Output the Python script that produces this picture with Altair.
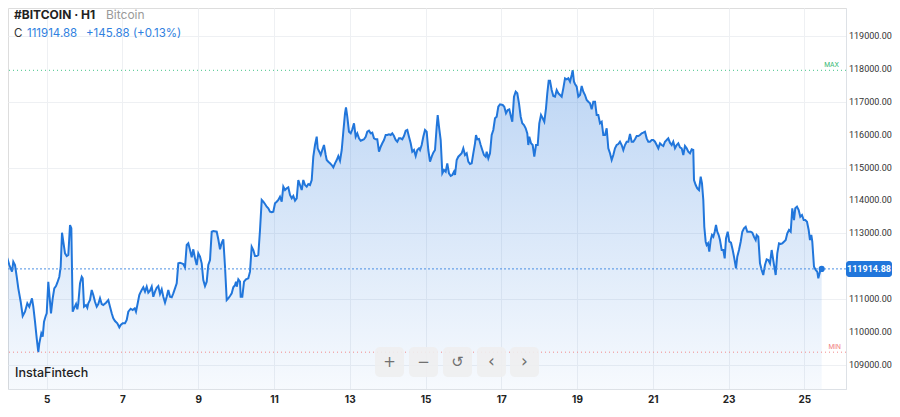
import altair as alt
import pandas as pd

# ---- data (day of month, price) ----
days1 = [3.767,3.812,3.854,3.880,3.925,3.960,4.013,4.049,4.084,4.118,
4.163,4.208,4.250,4.313,4.366,4.427,4.488,4.540,4.611,4.646,
4.691,4.736,4.778,4.805,4.857,4.894,4.929,4.973,5.000,5.042,
5.087,5.113,5.158,5.200,5.245,5.280,5.333,5.369,5.404,5.438,
5.483,5.528,5.570,5.615,5.650,5.686,5.721,5.774,5.808,5.834,
5.879,5.924,5.950,5.985,6.037,6.072,6.098,6.143,6.188,6.230,
6.275,6.320,6.362,6.407,6.452,6.494,6.565,6.626,6.671,6.716,
6.758,6.803,6.864,6.917,6.953,7.006,7.067,7.112,7.154,7.217,
7.270,7.323,7.357,7.402,7.444]
prices1 = [111982,112286,112390,112186,112286,112237,112033,111933,111830,112134,
112033,111677,111324,110916,110481,110612,110868,110764,111020,110764,
110308,109802,109380,109650,109954,109851,110308,110481,110563,111525,
110916,110563,111020,111324,111394,111495,111677,111982,113017,112743,
112390,112307,112338,113251,113151,110612,110715,110846,110685,110868,
111476,111677,111628,110764,110816,110734,110868,110968,111272,111120,
110916,110764,110846,111020,110846,110816,110886,110968,110764,110563,
110411,110329,110259,110137,110207,110259,110259,110359,110612,110703,
110664,110715,110612,110868,111120]

days2 = [7.463,7.508,7.550,7.595,7.640,7.682,7.727,7.772,7.814,7.859,
7.904,7.946,7.991,8.036,8.078,8.123,8.168,8.210,8.255,8.300,
8.342,8.387,8.432,8.474,8.519,8.564,8.606,8.651,8.696,8.738,
8.783,8.828,8.870,8.915,8.960,9.002,9.047,9.092,9.134,9.179,
9.224,9.266,9.311,9.356,9.398,9.488,9.530,9.575,9.620,9.662,
9.707,9.752,9.794,9.839,9.884,9.926,9.971,9.997,10.016,10.058,
10.103,10.121,10.164,10.209,10.261,10.322,10.367,10.411,10.454,10.499,
10.544,10.586,10.631,10.676,10.718,10.763,10.808,10.850,10.895,10.940,
10.982,11.027,11.072,11.114]
prices2 = [111172,111272,111355,111221,111373,111190,111251,111373,111068,111221,
111342,111394,111151,111294,111068,110886,111068,111272,111068,111050,
111172,111324,111476,112085,112103,112085,112064,111963,112642,112694,
112490,112268,112511,112237,112033,112390,112286,112085,111577,111394,
111525,112033,112186,113047,113068,113047,112816,112511,112712,112816,
111982,110968,111020,111090,111172,111355,111425,111525,111373,111598,
111525,111068,111068,111525,111598,111628,111830,112590,112490,112307,
112307,112338,113099,114012,113960,113890,113808,113759,113656,113638,
113656,113912,113960,114012]

days3 = [11.159,11.204,11.246,11.291,11.336,11.378,11.423,11.468,11.510,11.555,
11.600,11.642,11.687,11.732,11.774,11.819,11.864,11.906,11.951,11.996,
12.038,12.083,12.128,12.154,12.196,12.233,12.275,12.320,12.365,12.392,
12.434,12.479,12.524,12.566,12.611,12.656,12.698,12.743,12.788,12.830,
12.875,12.901,12.935,12.980,13.025,13.067,13.112,13.157,13.199,13.244,
13.289,13.331,13.376,13.421,13.463,13.508,13.553,13.595,13.640,13.685,
13.727,13.772,13.817,13.859,13.904,13.949,13.991,14.036,14.081,14.123,
14.168,14.213,14.255,14.300,14.345,14.387,14.432,14.477,14.519,14.564,
14.609,14.651,14.696,14.741,14.783,14.828]
prices3 = [114112,113960,114417,114316,114368,114399,114164,114064,114134,113991,
114064,114621,114469,114316,114621,114469,114417,114499,114469,114621,
115330,115686,115939,115586,115482,115382,115534,115686,115382,115230,
115178,115129,115077,115007,115129,115230,115351,115208,115534,116091,
116651,116834,116548,116091,116042,116164,116347,115939,116042,115890,
115817,115838,115860,115939,116091,116122,116042,116061,115890,115860,
115860,115482,115634,115738,115838,115991,115991,116012,115991,116042,
115960,115838,115787,115890,115890,115860,115960,116122,116143,115939,
115738,115482,115534,115351,115534,115586]

days4 = [14.855,14.899,14.942,14.987,15.031,15.074,15.119,15.163,15.206,15.251,
15.295,15.322,15.356,15.401,15.444,15.488,15.533,15.575,15.620,15.665,
15.707,15.752,15.779,15.823,15.866,15.911,15.955,15.998,16.043,16.087,
16.130,16.175,16.219,16.262,16.307,16.333,16.367,16.412,16.457,16.499,
16.544,16.589,16.615,16.658,16.703,16.747,16.790,16.835,16.879,16.922,
16.967,17.038,17.080,17.125,17.170,17.212,17.257,17.291,17.336,17.381,
17.423,17.468,17.513,17.555,17.600,17.645,17.687,17.714,17.740,17.785,
17.830,17.872,17.917,17.962,18.004,18.049,18.094,18.136,18.181,18.215,
18.252,18.287,18.331,18.374,18.419,18.463,18.506]
prices4 = [115534,115686,115939,116143,116091,115534,115178,115330,115452,115534,
116243,116599,116243,115838,114825,114925,114874,115129,114825,114743,
114773,114874,114773,115230,115330,115382,115434,115586,115382,115434,
115178,115108,115129,115434,115738,115991,115860,115869,115686,115534,
115382,115330,115482,115281,115434,115991,116143,116499,116548,116852,
116925,116904,116852,116651,116752,116773,116548,116395,117156,117309,
117260,116956,116548,116347,116295,116195,116042,115686,115939,115738,
115686,115330,115686,115686,116347,116599,116499,116395,116803,117260,
117643,117643,117360,117178,117156,117360,117260]

days5 = [18.551,18.595,18.638,18.683,18.727,18.770,18.815,18.859,18.886,18.920,
18.947,18.991,19.034,19.079,19.123,19.166,19.211,19.255,19.298,19.343,
19.387,19.430,19.475,19.519,19.562,19.607,19.651,19.694,19.739,19.783,
19.826,19.871,19.915,19.958,20.002,20.047,20.090,20.134,20.179,20.222,
20.266,20.311,20.354,20.399,20.443,20.486,20.530,20.575,20.618,20.662,
20.707,20.750,20.794,20.839,20.882,20.926,20.971,21.014,21.058,21.103,
21.146,21.190,21.235,21.278,21.322,21.367,21.409,21.454,21.499,21.541,
21.586,21.631,21.674,21.718,21.763,21.806,21.850,21.895,21.937,21.982,
22.027,22.069]
prices5 = [117208,117156,117412,117717,117686,117717,117613,117817,117960,117613,
117543,117461,117156,117208,117482,117309,117208,117056,117004,116956,
116773,117004,117004,116599,116599,116347,116395,115991,115991,116195,
115586,115434,115230,115382,115586,115686,115717,115787,115686,115534,
115686,115787,115787,116021,115787,115787,115860,115960,115960,115991,
116042,116061,116091,115890,115787,115787,115838,115838,115787,115686,
115586,115738,115686,115656,115787,115838,115890,115756,115686,115787,
115586,115686,115738,115616,115586,115382,115656,115586,115482,115434,
115555,115534]

days6 = [22.088,22.133,22.175,22.220,22.265,22.299,22.334,22.360,22.397,22.423,
22.458,22.492,22.529,22.563,22.598,22.635,22.669,22.703,22.740,22.774,
22.819,22.862,22.899,22.933,22.978,23.020,23.065,23.110,23.152,23.197,
23.231,23.276,23.321,23.363,23.408,23.453,23.495,23.540,23.585,23.627,
23.672,23.717,23.743,23.785,23.830,23.875,23.917,23.962,24.007,24.049,
24.094,24.139,24.166,24.208,24.245,24.287,24.332,24.377,24.419,24.464,
24.509,24.551,24.596,24.641,24.683,24.728,24.762,24.807,24.852,24.894,
24.939,24.984,25.026,25.071,25.116,25.150,25.185,25.211,25.256,25.301,
25.343,25.370,25.414,25.459]
prices6 = [114621,114469,114368,114316,114721,114520,114012,113199,112743,112642,
112694,112438,112794,112947,112895,113047,113251,113047,112947,112794,
112490,112490,112237,112846,113047,112743,112712,112490,112237,111933,
112286,112490,112743,113047,113150,113199,113047,113047,113047,113017,
112895,112794,112947,112895,112085,111881,111729,112033,112207,112186,
112085,112490,112286,111982,111729,112390,112694,112673,112694,112743,
112794,112998,113099,113047,113759,113403,113759,113808,113708,113504,
113555,113403,113403,113351,113099,112794,112947,112743,111982,111881,
111830,111628,111830,111914.88]

x_ticks = [5, 7, 9, 11, 13, 15, 17, 19, 21, 23, 25]
y_ticks = [109000, 110000, 111000, 112000, 113000, 114000, 115000,
           116000, 117000, 118000, 119000, 120000]
symbol = "#BITCOIN · H1"
name = "Bitcoin"
last_close = "111914.88"
change = "+145.88 (+0.13%)"
brand = "InstaFintech"
buttons = ["+", "−", "↺", "‹", "›"]

days = days1 + days2 + days3 + days4 + days5 + days6
prices = prices1 + prices2 + prices3 + prices4 + prices5 + prices6
assert len(days) == len(prices)
df = pd.DataFrame({"day": days, "price": prices})
last = pd.DataFrame({"day": [days[-1]], "price": [prices[-1]]})
LAST = prices[-1]
MAXV = max(prices)
MINV = min(prices)

BLUE = "#2176db"
W, H = 838, 381
Y_LO, Y_HI = 108259, 119857
xs = alt.Scale(domain=[3.978, 26.101], nice=False, zero=False)
ys = alt.Scale(domain=[Y_LO, Y_HI], nice=False, zero=False)
GRID = "#eef0f3"
NUMF = "Roboto, sans-serif"
MAIN = "Inter, Lato, sans-serif"

xaxis = alt.Axis(values=x_ticks, format="d", grid=True, gridColor=GRID,
                 ticks=False, tickSize=0, domainColor="#dde1e6",
                 labelFont=MAIN, labelFontWeight="bold", labelFontSize=10,
                 labelColor="#222222", labelPadding=10, labelBaseline="middle",
                 labelFlush=False, labelOverlap=False, title=None)
yaxis = alt.Axis(orient="right", values=y_ticks, grid=True, labels=False,
                 gridColor=GRID, ticks=False, tickSize=0, domainColor="#dde1e6",
                 title=None)

base = alt.Chart(df)
area = base.mark_area(
    clip=True,
    color=alt.Gradient(gradient="linear",
                       stops=[alt.GradientStop(color="rgba(40,120,220,0.31)", offset=0),
                              alt.GradientStop(color="rgba(40,120,220,0.04)", offset=1)],
                       x1=1, x2=1, y1=0, y2=1),
).encode(
    x=alt.X("day:Q", scale=xs, axis=xaxis),
    y=alt.Y("price:Q", scale=ys, axis=yaxis),
    y2=alt.Y2Datum(Y_LO),
)
line = base.mark_line(clip=True, color=BLUE, strokeWidth=2).encode(
    x=alt.X("day:Q", scale=xs), y=alt.Y("price:Q", scale=ys))

# right-hand price labels (the one hidden behind the last-price tag is left out)
ylab_df = pd.DataFrame({"v": [v for v in y_ticks if v < Y_HI and abs(v - LAST) > 300]})
ylabels = alt.Chart(ylab_df).mark_text(
    font=NUMF, fontSize=9, color="#333333", align="left", baseline="middle"
).encode(
    x=alt.value(841), y=alt.Y("v:Q", scale=ys), text=alt.Text("v:Q", format=".2f"))

one = alt.Chart(alt.Data(values=[{"k": 1}]))
last_rule = one.mark_rule(color="#4a8fe3", strokeDash=[2, 2], strokeWidth=1).encode(
    y=alt.YDatum(LAST, scale=ys))
max_rule = one.mark_rule(color="#45c389", strokeDash=[1, 3], strokeWidth=1).encode(
    y=alt.YDatum(MAXV, scale=ys))
min_rule = one.mark_rule(color="#f28b8b", strokeDash=[1, 3], strokeWidth=1).encode(
    y=alt.YDatum(MINV, scale=ys))
max_txt = one.mark_text(text="MAX", font=MAIN, fontSize=6.5, color="#2fb56d",
                        align="right", baseline="bottom", dy=-2).encode(
    x=alt.value(831), y=alt.YDatum(MAXV, scale=ys))
min_txt = one.mark_text(text="MIN", font=MAIN, fontSize=6.5, color="#f07a7a",
                        align="right", baseline="bottom", dy=-2).encode(
    x=alt.value(833), y=alt.YDatum(MINV, scale=ys))
tag = one.mark_tick(color=BLUE, orient="horizontal", size=46, thickness=16,
                    cornerRadius=3, opacity=1).encode(
    x=alt.value(861), y=alt.YDatum(LAST, scale=ys))
tag_txt = one.mark_text(text=last_close, font=NUMF, fontSize=9, color="white",
                        fontWeight="bold", align="center", baseline="middle").encode(
    x=alt.value(861), y=alt.YDatum(LAST, scale=ys))
dot = alt.Chart(last).mark_circle(size=38, color=BLUE, opacity=1).encode(
    x=alt.X("day:Q", scale=xs), y=alt.Y("price:Q", scale=ys))

def label(txt, x, y, size, color, weight="normal", font=MAIN):
    return one.mark_text(text=txt, font=font, fontSize=size, color=color,
                         fontWeight=weight, align="left", baseline="middle").encode(
        x=alt.value(x), y=alt.value(y))

hdr = [
    label(symbol, 6, 6.5, 12, "#222222", "bold"),
    label(name, 98, 6.5, 12, "#9a9a9a"),
    label("C", 6, 25.5, 11.5, "#333333"),
    label(last_close, 19, 25.5, 11.5, "#2f80e0"),
    label(change, 78, 25.5, 11.5, "#2f80e0"),
    label(brand, 7, 365, 12.5, "#222222", 500),
]

btn_layers = []
bx = [367, 401, 435, 469, 502]
for i, sym in enumerate(buttons):
    btn_layers.append(one.mark_rect(color="#eeeef0", opacity=0.9, cornerRadius=5).encode(
        x=alt.value(bx[i]), x2=alt.value(bx[i] + 29), y=alt.value(339), y2=alt.value(369)))
    btn_layers.append(one.mark_text(text=sym, font="DejaVu Sans", fontSize=17 if sym in "‹›" else 15,
                                    color="#707070", align="center", baseline="middle").encode(
        x=alt.value(bx[i] + 14.5), y=alt.value(354)))

chart = alt.layer(area, line, ylabels, last_rule, max_rule, min_rule, max_txt, min_txt,
                  tag, tag_txt, dot, *hdr, *btn_layers).properties(
    width=W, height=H,
    autosize=alt.AutoSizeParams(type="none"),
    padding={"left": 0, "top": 0, "right": 46, "bottom": 16},
).configure_view(stroke=None).configure_axis(labelOverlap=False).configure(background="white")

chart.save("out.html", embed_options={"renderer": "svg", "actions": False})
